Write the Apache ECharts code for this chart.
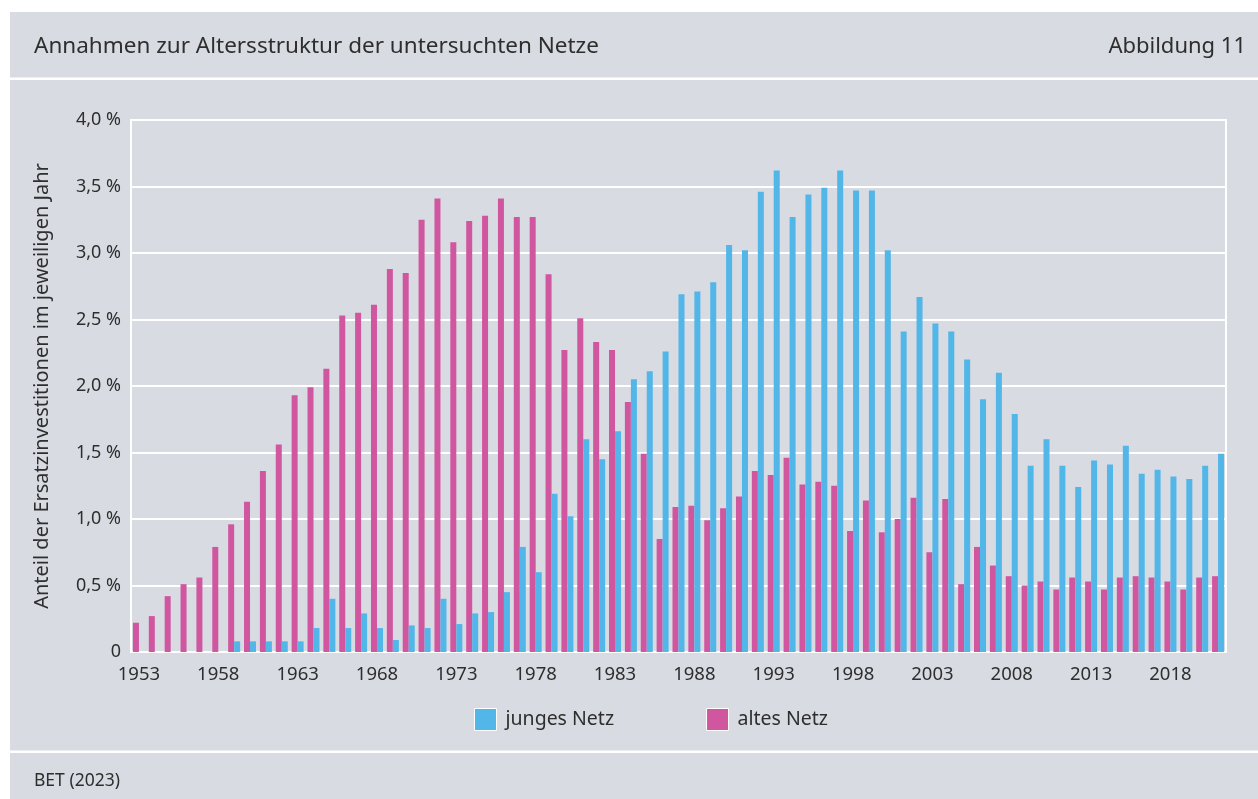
<!DOCTYPE html>
<html>
<head>
<meta charset="utf-8">
<script src="https://cdn.jsdelivr.net/npm/echarts@6/dist/echarts.min.js"></script>
<style>
html,body{margin:0;padding:0;background:#fff;}
#chart{width:1258px;height:799px;}
</style>
</head>
<body>
<div id="chart"></div>
<script>
const years = ['1953','1954','1955','1956','1957','1958','1959','1960','1961','1962',
'1963','1964','1965','1966','1967','1968','1969','1970','1971','1972',
'1973','1974','1975','1976','1977','1978','1979','1980','1981','1982',
'1983','1984','1985','1986','1987','1988','1989','1990','1991','1992',
'1993','1994','1995','1996','1997','1998','1999','2000','2001','2002',
'2003','2004','2005','2006','2007','2008','2009','2010','2011','2012',
'2013','2014','2015','2016','2017','2018','2019','2020','2021'];

const junges = [0,0,0,0,0,0,0.08,0.08,0.08,0.08,
0.08,0.18,0.40,0.18,0.29,0.18,0.09,0.20,0.18,0.40,
0.21,0.29,0.30,0.45,0.79,0.60,1.19,1.02,1.60,1.45,
1.66,2.05,2.11,2.26,2.69,2.71,2.78,3.06,3.02,3.46,
3.62,3.27,3.44,3.49,3.62,3.47,3.47,3.02,2.41,2.67,
2.47,2.41,2.20,1.90,2.10,1.79,1.40,1.60,1.40,1.24,
1.44,1.41,1.55,1.34,1.37,1.32,1.30,1.40,1.49];

const altes = [0.22,0.27,0.42,0.51,0.56,0.79,0.96,1.13,1.36,1.56,
1.93,1.99,2.13,2.53,2.55,2.61,2.88,2.85,3.25,3.41,
3.08,3.24,3.28,3.41,3.27,3.27,2.84,2.27,2.51,2.33,
2.27,1.88,1.49,0.85,1.09,1.10,0.99,1.08,1.17,1.36,
1.33,1.46,1.26,1.28,1.25,0.91,1.14,0.90,1.00,1.16,
0.75,1.15,0.51,0.79,0.65,0.57,0.50,0.53,0.47,0.56,
0.53,0.47,0.56,0.57,0.56,0.53,0.47,0.56,0.57];

const yTicks = [0,0.5,1.0,1.5,2.0,2.5,3.0,3.5,4.0];

const FONT = 'Noto Sans';
const TXT = '#2e2e2e';
const BG = '#d8dbe2';
const BLUE = '#52b6e8';
const PINK = '#d056a0';

const chart = echarts.init(document.getElementById('chart'), null, {renderer:'canvas'});
chart.setOption({
  backgroundColor: '#ffffff',
  animation: false,
  textStyle: {fontFamily: FONT, color: TXT},
  graphic: [
    {type:'rect', z:-10, shape:{x:10,y:12,width:1248,height:787}, style:{fill:BG}},
    {type:'rect', z:-5, shape:{x:10,y:77.5,width:1248,height:2.5}, style:{fill:'#ffffff'}},
    {type:'rect', z:-5, shape:{x:10,y:750.5,width:1248,height:2.5}, style:{fill:'#ffffff'}},
    {type:'text', x:34, y:47, style:{text:'Annahmen zur Altersstruktur der untersuchten Netze', font:'22.5px "Noto Sans"', fill:TXT, textVerticalAlign:'middle'}},
    {type:'text', x:1246, y:47, style:{text:'Abbildung 11', font:'22px "Noto Sans"', fill:TXT, textAlign:'right', textVerticalAlign:'middle'}},
    {type:'text', x:34, y:781, style:{text:'BET (2023)', font:'17.5px "Noto Sans"', fill:TXT, textVerticalAlign:'middle'}}
  ],
  legend: {
    data: ['junges Netz','altes Netz'],
    top: 703,
    left: 469,
    itemWidth: 22,
    itemHeight: 22,
    itemGap: 92,
    icon: 'rect',
    textStyle: {fontFamily: FONT, fontSize: 19.5, color: TXT, padding:[0,0,0,4]},
    itemStyle: {borderColor:'#ffffff', borderWidth:1}
  },
  grid: {left:131, right:32, top:120, bottom:147, show:true, borderColor:'#ffffff', borderWidth:2, backgroundColor:'transparent'},
  xAxis: {
    type: 'category',
    data: years,
    boundaryGap: true,
    axisLine: {show:true, lineStyle:{color:'#ffffff', width:2}},
    axisTick: {show:false},
    axisLabel: {interval:4, fontFamily:FONT, fontSize:18.5, color:TXT, margin:13}
  },
  yAxis: {
    type: 'value',
    min: 0, max: 4, interval: 0.5,
    axisLine: {show:true, lineStyle:{color:'#ffffff', width:2}},
    axisTick: {show:false},
    splitLine: {show:true, lineStyle:{color:'#ffffff', width:2}},
    axisLabel: {
      fontFamily: FONT, fontSize: 18, color: TXT, margin: 10,
      formatter: function(v){ return v === yTicks[0] ? '0' : v.toFixed(1).replace('.', ',') + ' %'; }
    },
    name: 'Anteil der Ersatzinvestitionen im jeweiligen Jahr',
    nameLocation: 'middle',
    nameGap: 79,
    nameRotate: 90,
    nameTextStyle: {fontFamily: FONT, fontSize: 20, color: TXT}
  },
  series: [
    {name:'altes Netz', type:'bar', data:altes, barWidth:6, barGap:'0%', itemStyle:{color:PINK}},
    {name:'junges Netz', type:'bar', data:junges, barWidth:6, barGap:'0%', itemStyle:{color:BLUE}}
  ]
});
</script>
</body>
</html>
